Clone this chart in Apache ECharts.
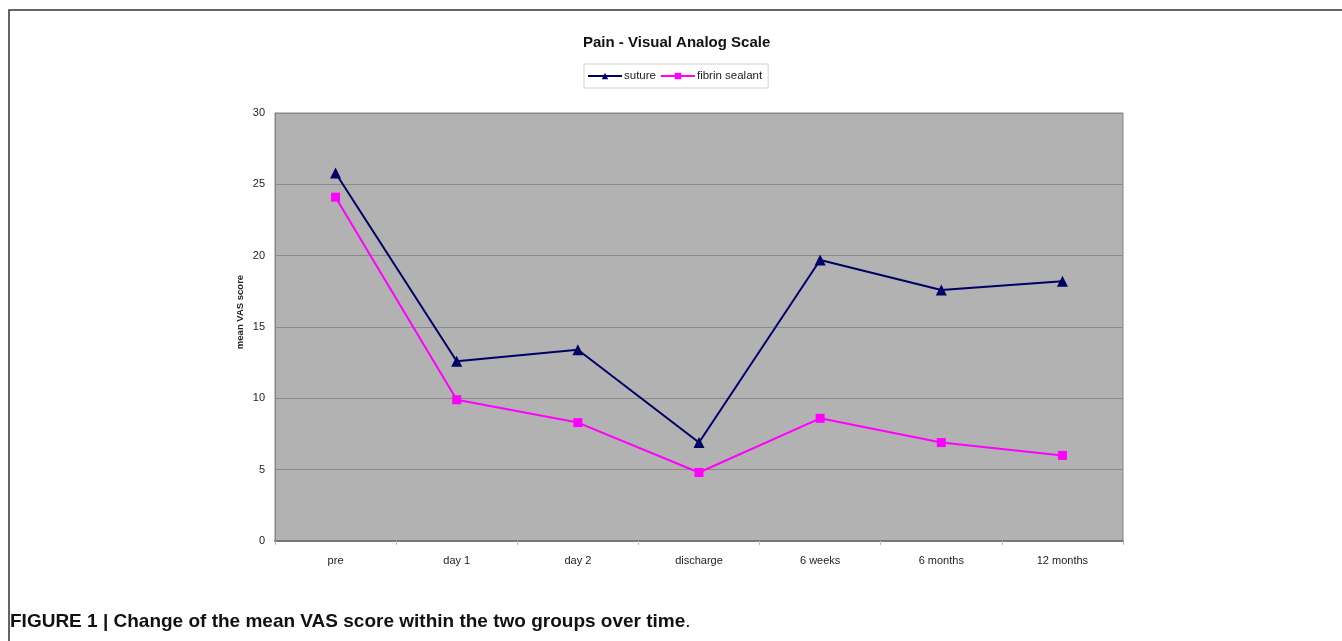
<!DOCTYPE html>
<html>
<head>
<meta charset="utf-8">
<style>
  html, body { margin: 0; padding: 0; background: #fff; }
  #chart { width: 1342px; height: 641px; }
</style>
<script src="https://cdn.jsdelivr.net/npm/echarts@6/dist/echarts.min.js"></script>
</head>
<body>
<div id="chart"></div>
<script>
// Time points of the follow-up
const categories = ['pre', 'day 1', 'day 2', 'discharge', '6 weeks', '6 months', '12 months'];
// Mean VAS score per group
const sutureValues = [25.8, 12.6, 13.4, 6.9, 19.7, 17.6, 18.2];
const fibrinValues = [24.1, 9.9, 8.3, 4.8, 8.6, 6.9, 6.0];
const yTicks = { min: 0, max: 30, interval: 5 };

const chart = echarts.init(document.getElementById('chart'));
const font = 'Liberation Sans, Arial, sans-serif';

chart.setOption({
  animation: false,
  backgroundColor: '#ffffff',
  title: {
    text: 'Pain - Visual Analog Scale',
    left: 578,
    top: 30,
    textStyle: { fontFamily: font, fontSize: 15, fontWeight: 'bold', color: '#111' }
  },
  legend: {
    left: 584,
    top: 64,
    padding: [6, 6, 6, 3],
    itemGap: 4,
    itemWidth: 34,
    itemHeight: 8,
    borderColor: '#d0d0d0',
    borderWidth: 1,
    backgroundColor: '#ffffff',
    textStyle: { fontFamily: font, fontSize: 11.5, color: '#222', padding: [0, 0, 0, -3] },
    data: ['suture', 'fibrin sealant']
  },
  grid: { left: 275, right: 219, top: 113, bottom: 100, show: true,
          backgroundColor: '#b2b2b2', borderColor: '#858585', borderWidth: 1 },
  xAxis: {
    type: 'category',
    data: categories,
    boundaryGap: true,
    axisLine: { lineStyle: { color: '#777', width: 2 } },
    axisTick: { show: true, length: 4, lineStyle: { color: '#bbb' } },
    axisLabel: { fontFamily: font, fontSize: 11, color: '#222', margin: 14 }
  },
  yAxis: {
    type: 'value',
    min: yTicks.min,
    max: yTicks.max,
    interval: yTicks.interval,
    axisLine: { show: true, lineStyle: { color: '#858585' } },
    axisTick: { show: false },
    axisLabel: { fontFamily: font, fontSize: 11, color: '#222', margin: 10 },
    splitLine: { lineStyle: { color: '#8a8a8a', width: 1 } }
  },
  series: [
    {
      name: 'suture',
      type: 'line',
      data: sutureValues,
      symbol: 'triangle',
      symbolSize: 11,
      color: '#000066',
      lineStyle: { color: '#000066', width: 2 },
      itemStyle: { color: '#000066' }
    },
    {
      name: 'fibrin sealant',
      type: 'line',
      data: fibrinValues,
      symbol: 'rect',
      symbolSize: 9,
      color: '#ff00ff',
      lineStyle: { color: '#ff00ff', width: 2 },
      itemStyle: { color: '#ff00ff' }
    }
  ],
  graphic: [
    {
      // open frame around the figure (left and top edges)
      type: 'polyline',
      silent: true,
      shape: { points: [[9, 641], [9, 10], [1342, 10]] },
      style: { stroke: '#333', lineWidth: 1.5, fill: null }
    },
    {
      // y-axis title
      type: 'text',
      x: 240,
      y: 312,
      rotation: Math.PI / 2,
      style: {
        text: 'mean VAS score',
        fontFamily: font,
        fontSize: 9.5,
        fontWeight: 'bold',
        fill: '#222',
        align: 'center',
        verticalAlign: 'middle'
      }
    },
    {
      // figure caption
      type: 'text',
      left: 10,
      top: 612,
      style: {
        rich: {
          b: { fontFamily: font, fontSize: 19, fontWeight: 'bold', fill: '#111' },
          n: { fontFamily: font, fontSize: 19, fill: '#111' }
        },
        text: '{b|FIGURE 1 | Change of the mean VAS score within the two groups over time}{n|.}'
      }
    }
  ]
});
</script>
</body>
</html>
